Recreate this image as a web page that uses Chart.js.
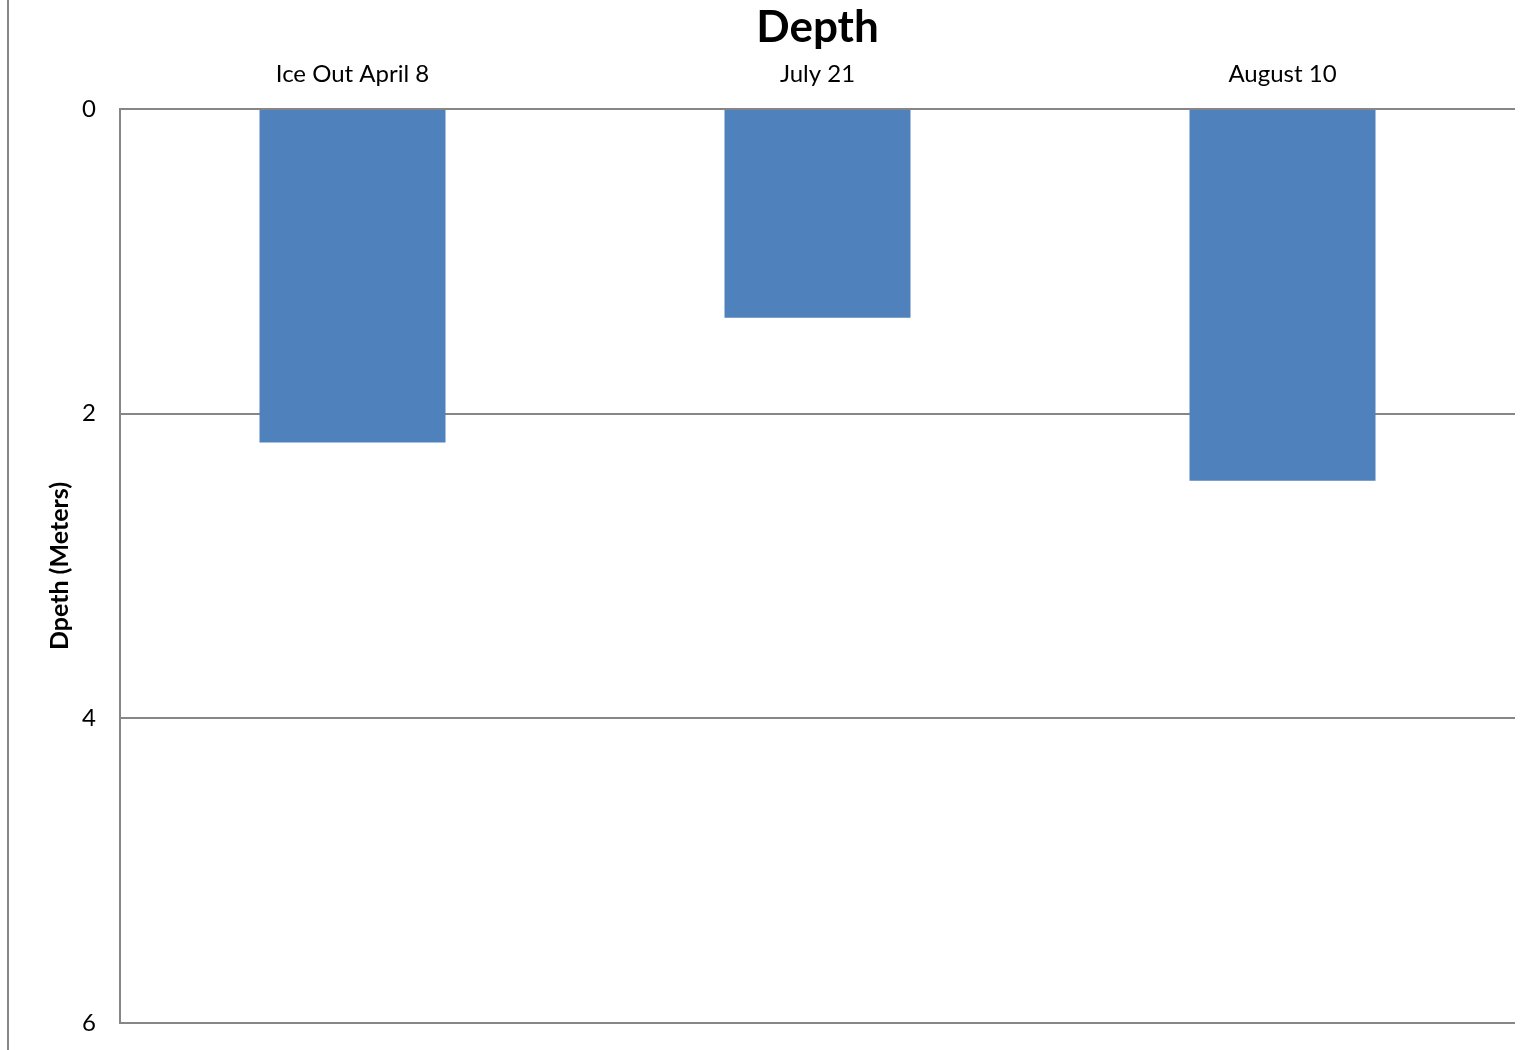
<!DOCTYPE html>
<html>
<head>
<meta charset="utf-8">
<script src="https://cdn.jsdelivr.net/npm/chart.js@4"></script>
<style>
  body { margin: 0; background: #fff; }
  #wrap { width: 1537px; height: 1050px; }
</style>
</head>
<body>
<div id="wrap"><canvas id="myChart" width="1537" height="1050"></canvas></div>
<script>
const categories = ['Ice Out April 8', 'July 21', 'August 10'];
const depths = [2.19, 1.37, 2.44];
const yTicks = [0, 2, 4, 6];

const gridGray = '#868686';
const font = 'Lato, "Open Sans", sans-serif';

// left frame line of the chart box
const frameLine = {
    id: 'frameLine',
    afterDraw(chart) {
        const c = chart.ctx;
        c.save();
        c.strokeStyle = gridGray;
        c.lineWidth = 2;
        c.beginPath();
        c.moveTo(8, 0);
        c.lineTo(8, chart.height);
        c.stroke();
        c.restore();
    }
};

const ctx = document.getElementById('myChart').getContext('2d');
const chart = new Chart(ctx, {
    type: 'bar',
    data: {
        labels: categories,
        datasets: [{
            label: 'Depth',
            data: depths,
            backgroundColor: '#4F81BD',
            borderWidth: 0,
            categoryPercentage: 1,
            barPercentage: 0.4
        }]
    },
    options: {
        responsive: false,
        animation: false,
        layout: { padding: { left: 0, right: 22, top: 0, bottom: 27 } },
        plugins: {
            legend: { display: false },
            tooltip: { enabled: false },
            title: {
                display: true,
                fullSize: false,
                text: 'Depth',
                color: '#000',
                font: { family: font, size: 44, weight: 'bold' },
                padding: { top: 1, bottom: 0 }
            }
        },
        scales: {
            x: {
                position: 'top',
                grid: { display: false, drawTicks: false },
                border: { display: false },
                ticks: {
                    color: '#000',
                    font: { family: font, size: 24 },
                    padding: 20,
                    maxRotation: 0
                },
                afterFit(scale) {
                    scale.height = 55.2;
                    scale.paddingLeft = 0;
                    scale.paddingRight = 0;
                }
            },
            y: {
                reverse: true,
                min: 0,
                max: 6,
                afterBuildTicks(scale) {
                    scale.ticks = yTicks.map(v => ({ value: v }));
                },
                grid: { color: gridGray, lineWidth: 2, drawTicks: false },
                border: { display: true, color: gridGray, width: 2 },
                ticks: {
                    color: '#000',
                    font: { family: font, size: 24 },
                    padding: 24
                },
                title: {
                    display: true,
                    text: 'Dpeth (Meters)',
                    color: '#000',
                    font: { family: font, size: 25, weight: 'bold' },
                    padding: { top: 45, bottom: 0 }
                },
                afterFit(scale) {
                    scale.width = 120;
                    scale.paddingTop = 0;
                    scale.paddingBottom = 0;
                }
            }
        }
    },
    plugins: [frameLine]
});
</script>
</body>
</html>
